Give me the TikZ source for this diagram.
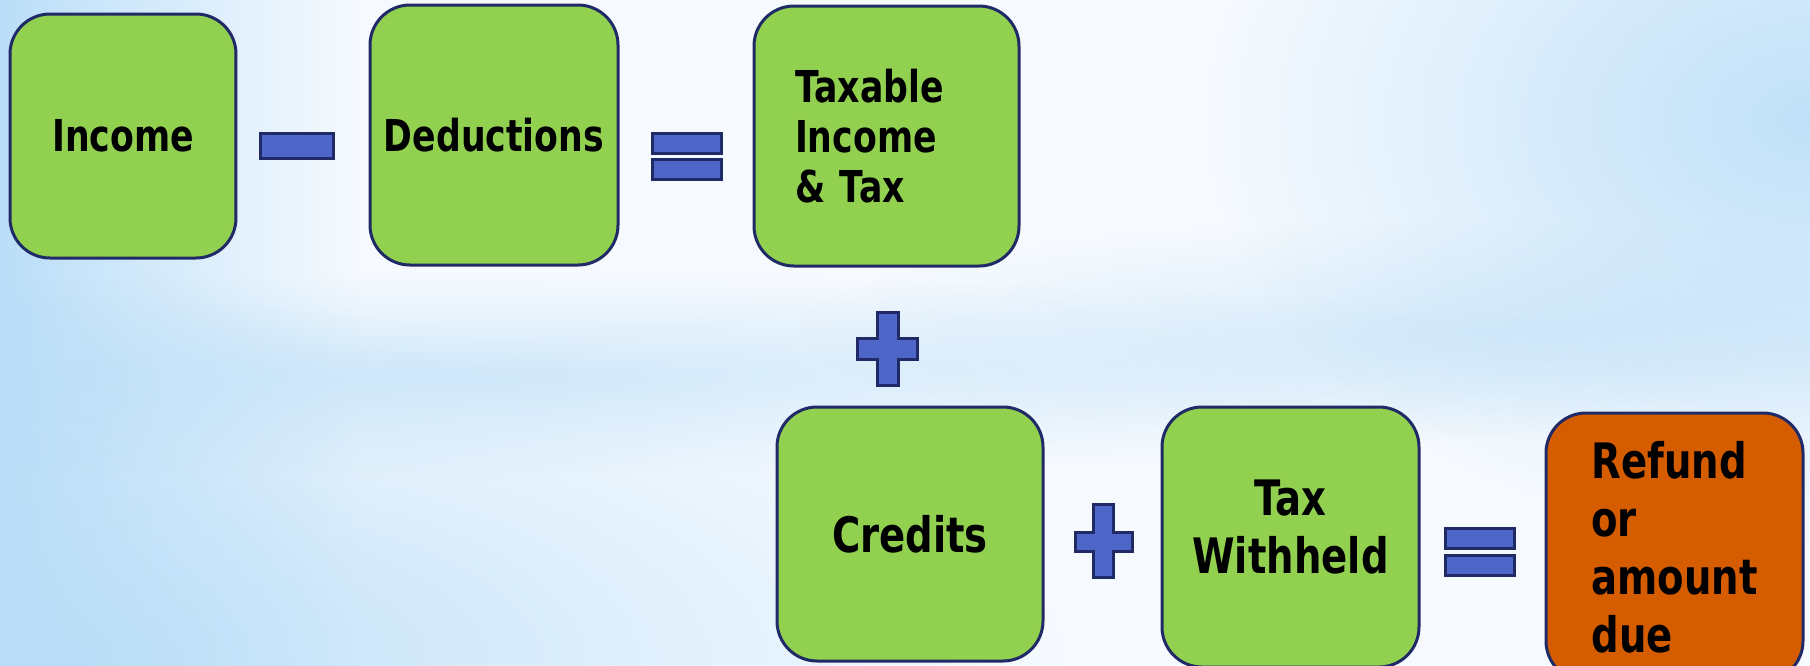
\documentclass[tikz,border=0pt]{standalone}
\usepackage{fontspec}
\setmainfont[FakeStretch=0.79]{DejaVu Sans}
\usetikzlibrary{fadings}

\definecolor{boxgreen}{RGB}{146,208,80}
\definecolor{boxorange}{RGB}{214,92,0}
\definecolor{edgenavy}{RGB}{32,42,102}
\definecolor{signblue}{RGB}{78,102,200}
\definecolor{skyblue}{RGB}{186,222,248}
\definecolor{paleback}{RGB}{246,250,254}

\tikzfading[name=softspot, inner color=transparent!0, outer color=transparent!100]

\tikzset{
  databox/.style={draw=edgenavy, line width=0.03cm, fill=boxgreen, rounded corners=0.4cm,
    text=black, font=\bfseries\fontsize{12.5}{14.3}\selectfont},
  lowbox/.style={databox, font=\bfseries\fontsize{13.9}{16.5}\selectfont},
  sign/.style={draw=edgenavy, line width=0.03cm, fill=signblue}
}

\begin{document}
\begin{tikzpicture}[x=0.1mm, y=-0.1mm]
  \useasboundingbox (0,0) rectangle (1810,665);
  \clip (0,0) rectangle (1810,665);

  % Drawing background
  \fill[paleback] (0,0) rectangle (1810,665);
  \shade[left color=skyblue, right color=paleback] (0,0) rectangle (360,665);
  \fill[skyblue, path fading=softspot, opacity=0.9] (60,660) ellipse [x radius=1000, y radius=360];
  \fill[skyblue, path fading=softspot, opacity=0.6] (450,375) ellipse [x radius=1300, y radius=100];
  \fill[skyblue, path fading=softspot, opacity=0.5] (1500,330) ellipse [x radius=700, y radius=110];
  \fill[skyblue, path fading=softspot, opacity=0.9] (1810,120) ellipse [x radius=600, y radius=420];

  % Drawing boxes of the top row
  \node[databox, minimum width=2.26cm, minimum height=2.44cm] (income) at (123,136) {Income};
  \node[databox, minimum width=2.48cm, minimum height=2.60cm] (deductions) at (494,135) {Deductions};
  \node[databox, minimum width=2.65cm, minimum height=2.60cm, text width=1.83cm, align=left] (taxable) at (886.5,136) {Taxable\\Income\\\& Tax};

  % Drawing boxes of the bottom row
  \node[lowbox, minimum width=2.66cm, minimum height=2.54cm] (credits) at (910,534) {Credits};
  \node[lowbox, minimum width=2.57cm, minimum height=2.60cm, align=center, text depth=0.2cm] (withheld) at (1290.5,537) {Tax\\Withheld};
  \node[lowbox, fill=boxorange, minimum width=2.57cm, minimum height=2.68cm, align=left] (refund) at (1674.5,547) {Refund\\or\\amount\\due};

  % Marking minus sign
  \draw[sign] (260,133) rectangle (333,158);

  % Marking equals sign after deductions
  \draw[sign] (652,133) rectangle (721,153);
  \draw[sign] (652,159) rectangle (721,179);

  % Marking plus sign under taxable income
  \draw[sign] (877,312) -- (898,312) -- (898,338) -- (917,338) -- (917,359) -- (898,359)
    -- (898,385) -- (877,385) -- (877,359) -- (857,359) -- (857,338) -- (877,338) -- cycle;

  % Marking plus sign after credits
  \draw[sign] (1093,504) -- (1113,504) -- (1113,532) -- (1132,532) -- (1132,551) -- (1113,551)
    -- (1113,577) -- (1093,577) -- (1093,551) -- (1075,551) -- (1075,532) -- (1093,532) -- cycle;

  % Marking equals sign before refund
  \draw[sign] (1445,528) rectangle (1514,548);
  \draw[sign] (1445,555) rectangle (1514,575);
\end{tikzpicture}
\end{document}
